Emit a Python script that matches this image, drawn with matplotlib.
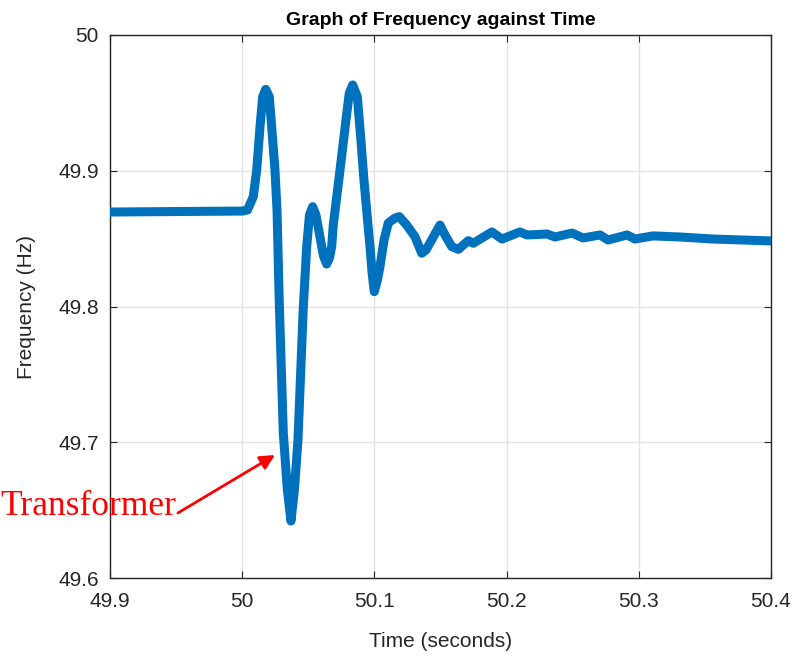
import matplotlib.pyplot as plt

# values
time_s = [49.9000, 50.0000, 50.0040, 50.0084, 50.0110, 50.0135, 50.0155, 50.0178, 50.0205,
          50.0223, 50.0248, 50.0264, 50.0280, 50.0311, 50.0342, 50.0369, 50.0395, 50.0422,
          50.0462, 50.0488, 50.0509, 50.0533, 50.0558, 50.0588, 50.0615, 50.0639, 50.0660,
          50.0677, 50.0689, 50.0740, 50.0785, 50.0810, 50.0836, 50.0871, 50.0896, 50.0921,
          50.0946, 50.0967, 50.0982, 50.0999, 50.1023, 50.1042, 50.1073, 50.1105, 50.1156,
          50.1188, 50.1244, 50.1307, 50.1358, 50.1390, 50.1433, 50.1496, 50.1534, 50.1585,
          50.1635, 50.1710, 50.1748, 50.1889, 50.1965, 50.2101, 50.2154, 50.2306, 50.2366,
          50.2495, 50.2578, 50.2707, 50.2767, 50.2911, 50.2971, 50.3107, 50.3312, 50.3561,
          50.4000]
freq_hz = [49.8696, 49.8703, 49.8711, 49.8809, 49.9006, 49.9325, 49.9545, 49.9600, 49.9545,
           49.9325, 49.9006, 49.8700, 49.8048, 49.7068, 49.6648, 49.6420, 49.6648, 49.7017,
           49.7989, 49.8441, 49.8674, 49.8735, 49.8674, 49.8514, 49.8372, 49.8313, 49.8357,
           49.8441, 49.8600, 49.9006, 49.9374, 49.9571, 49.9632, 49.9545, 49.9251, 49.8932,
           49.8662, 49.8441, 49.8254, 49.8109, 49.8195, 49.8293, 49.8490, 49.8615, 49.8652,
           49.8662, 49.8600, 49.8514, 49.8392, 49.8416, 49.8490, 49.8600, 49.8527, 49.8441,
           49.8421, 49.8485, 49.8466, 49.8549, 49.8497, 49.8549, 49.8527, 49.8534, 49.8512,
           49.8541, 49.8505, 49.8527, 49.8490, 49.8527, 49.8497, 49.8520, 49.8512, 49.8497,
           49.8483]

x_ticks = [49.9, 50.0, 50.1, 50.2, 50.3, 50.4]
x_tick_labels = ['49.9', '50', '50.1', '50.2', '50.3', '50.4']
y_ticks = [49.6, 49.7, 49.8, 49.9, 50.0]
y_tick_labels = ['49.6', '49.7', '49.8', '49.9', '50']

arrow_tip = (50.0248, 49.6906)
arrow_tail = (49.9514, 49.6479)

plt.rcParams['font.family'] = ['Liberation Sans', 'DejaVu Sans']

fig = plt.figure(figsize=(7.98, 6.59), dpi=100)
ax = fig.add_axes([0.1378, 0.1229, 0.8284, 0.824])

ax.plot(time_s, freq_hz, color='#0072BD', linewidth=6.5,
        solid_joinstyle='round', solid_capstyle='round', zorder=3)

ax.set_xlim(49.9, 50.4)
ax.set_ylim(49.6, 50.0)
ax.set_xticks(x_ticks)
ax.set_xticklabels(x_tick_labels)
ax.set_yticks(y_ticks)
ax.set_yticklabels(y_tick_labels)
ax.grid(True, color='#e3e3e3', linewidth=1.0, zorder=0)
ax.set_axisbelow(True)

for sp in ax.spines.values():
    sp.set_color('#262626')
    sp.set_linewidth(1.0)
ax.tick_params(direction='in', length=5, width=0.8, color='#262626',
               top=True, right=True, labelsize=15, labelcolor='#262626', pad=10)
ax.tick_params(axis='y', pad=8)

ax.set_title('Graph of Frequency against Time', fontsize=14, fontweight='bold', pad=7)
ax.set_xlabel('Time (seconds)', fontsize=15, color='#262626', labelpad=15)
ax.set_ylabel('Frequency (Hz)', fontsize=15, color='#262626', labelpad=16)

ax.annotate('', xy=arrow_tip, xytext=arrow_tail,
            arrowprops=dict(arrowstyle='-|>', color='red', lw=2,
                            mutation_scale=22, shrinkA=0, shrinkB=0), zorder=5)
fig.text(0.0, (659 - 515) / 659, 'Transformer', color='red', fontsize=25.5,
         family=['Liberation Serif', 'DejaVu Serif'], ha='left', va='baseline')

fig.savefig('out.png', dpi=100)
